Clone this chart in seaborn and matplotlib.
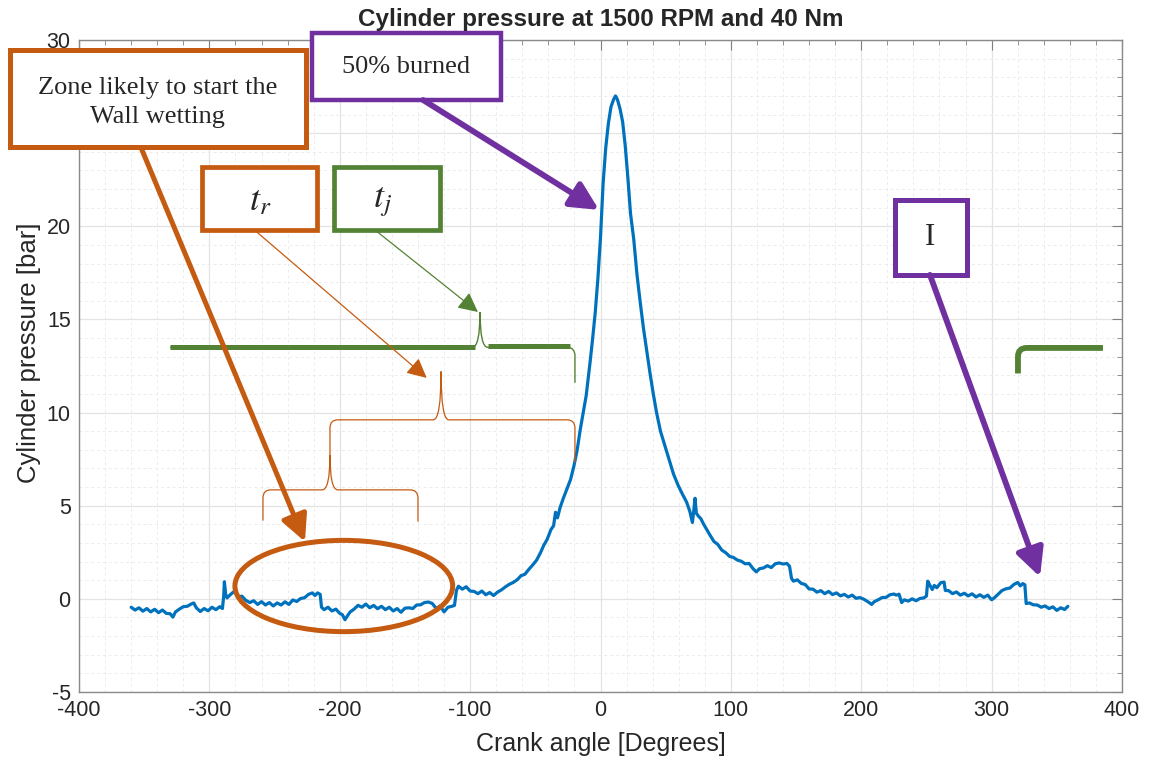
import numpy as np
import pandas as pd
import seaborn as sns
import matplotlib.pyplot as plt
from matplotlib.path import Path
from matplotlib.patches import PathPatch, Rectangle, Ellipse

# crank angle [deg] and cylinder pressure [bar]
angle = [-360, -357, -354, -351, -348, -345, -342, -339, -336, -333, -330, -328, -326, -323,
         -320, -317, -314, -312, -310, -307, -304, -301, -298, -295, -292, -290, -289, -288.5,
         -287.5, -286.5, -284, -281, -278, -275, -272, -269, -266, -263, -260, -257, -254, -251,
         -248, -245, -242, -239, -236, -233, -230, -227, -224, -221, -219, -217, -215, -214,
         -212, -209, -206, -203, -200, -198, -196, -194, -192, -189, -186, -183, -180, -177,
         -174, -171, -168, -165, -162, -159, -156, -153, -150, -147, -144, -141, -138, -135,
         -132, -129, -126, -123, -120, -117, -114, -112, -110.5, -109, -106, -103, -100, -97,
         -94, -91, -88, -85, -82, -79, -76, -73, -70, -67, -64, -61, -58, -55, -52, -49, -46,
         -43.5, -41, -38, -36, -34.5, -33, -31, -28.5, -26, -23, -20.5, -18, -15.5, -13, -11,
         -9.5, -8, -6, -4, -2, 0, 2, 4, 6, 8, 10, 11.5, 13, 15, 17, 19, 21, 23, 25.5, 28, 30.5,
         33, 35.5, 38, 40.5, 43, 46, 49.5, 53, 56, 59.5, 63, 66, 68.5, 70.5, 71.5, 72.5, 73.5,
         75, 77, 79, 81, 84, 87, 90, 93, 96, 99, 102, 105, 108, 111, 114, 117, 119.5, 122, 125,
         128, 131, 134, 137, 140, 143, 145, 146.5, 148, 151, 154, 157, 160, 163, 166, 169, 172,
         175, 178, 181, 184, 187, 190, 193, 196, 199, 202, 205, 208, 210, 213, 216, 219, 222,
         225, 227, 229, 231, 233, 236, 239, 242, 245, 248, 250, 251, 252.5, 254.5, 256, 258,
         261, 263.5, 264.5, 267, 270, 273, 276, 279, 282, 285, 288, 291, 294, 297, 300, 302,
         305, 308, 311, 314, 317, 320, 322, 324, 325.5, 326.5, 329, 332, 335, 338, 341, 344,
         347, 350, 353, 356, 358.5]
pressure = [-0.45, -0.60, -0.48, -0.66, -0.52, -0.70, -0.56, -0.74, -0.60, -0.78, -0.80, -0.98,
            -0.70, -0.55, -0.42, -0.40, -0.28, -0.22, -0.48, -0.68, -0.52, -0.64, -0.45, -0.58,
            -0.42, -0.52, 0.15, 0.92, 0.25, 0.05, 0.22, 0.40, 0.12, 0.14, -0.08, -0.20, -0.10,
            -0.30, -0.15, -0.33, -0.20, -0.38, -0.22, -0.33, -0.16, -0.30, -0.06, -0.14, 0.02,
            0.06, 0.24, 0.32, 0.18, 0.32, 0.24, -0.45, -0.58, -0.45, -0.65, -0.55, -0.78, -0.85,
            -1.12, -0.90, -0.70, -0.55, -0.35, -0.45, -0.28, -0.48, -0.35, -0.53, -0.40, -0.58,
            -0.45, -0.65, -0.52, -0.72, -0.50, -0.48, -0.52, -0.33, -0.32, -0.20, -0.17, -0.25,
            -0.52, -0.38, -0.70, -0.45, -0.40, -0.35, 0.45, 0.68, 0.52, 0.65, 0.42, 0.40, 0.28,
            0.42, 0.22, 0.34, 0.18, 0.36, 0.48, 0.64, 0.78, 0.88, 1.02, 1.24, 1.32, 1.58, 1.82,
            2.08, 2.48, 2.88, 3.18, 3.72, 3.92, 4.65, 4.35, 4.90, 5.40, 5.85, 6.40, 7.10, 7.95,
            9.10, 10.10, 10.90, 11.80, 12.70, 14.00, 15.40, 17.20, 19.40, 22.30, 24.20, 25.50,
            26.40, 26.80, 27.00, 26.80, 26.30, 25.60, 24.30, 22.60, 20.70, 19.30, 17.40, 15.90,
            14.50, 13.30, 12.10, 11.00, 10.00, 9.00, 8.20, 7.40, 6.70, 6.10, 5.60, 5.20, 4.70,
            4.10, 4.70, 5.40, 4.60, 4.45, 4.30, 4.02, 3.78, 3.42, 3.08, 2.92, 2.62, 2.48, 2.28,
            2.22, 2.08, 2.02, 1.88, 1.90, 1.62, 1.45, 1.62, 1.66, 1.78, 1.68, 1.88, 1.93, 1.87,
            1.90, 1.75, 1.10, 0.95, 1.02, 0.83, 0.77, 0.53, 0.52, 0.36, 0.44, 0.28, 0.40, 0.23,
            0.32, 0.16, 0.24, 0.10, 0.20, 0.03, 0.07, -0.02, -0.15, -0.30, -0.15, -0.05, 0.07,
            0.08, 0.22, 0.26, 0.20, 0.25, -0.20, -0.05, -0.12, 0.00, -0.10, 0.02, 0.05, 0.15,
            0.95, 0.75, 0.50, 0.72, 0.60, 0.87, 0.90, 0.45, 0.44, 0.28, 0.37, 0.20, 0.30, 0.16,
            0.27, 0.10, 0.22, 0.08, 0.20, -0.05, 0.05, 0.25, 0.45, 0.54, 0.58, 0.77, 0.88, 0.70,
            0.82, 0.75, -0.25, -0.22, -0.32, -0.33, -0.45, -0.38, -0.52, -0.43, -0.62, -0.48,
            -0.57, -0.40]

x_ticks = [-400, -300, -200, -100, 0, 100, 200, 300, 400]
y_ticks = [-5, 0, 5, 10, 15, 20, 25, 30]

BLUE = '#0072BD'
ORANGE = '#C55A11'
PURPLE = '#7030A0'
GREEN = '#548235'
SERIF = ['Liberation Serif', 'DejaVu Serif']

sns.set_theme(style='white')
plt.rcParams['font.family'] = ['Liberation Sans', 'DejaVu Sans']
plt.rcParams['mathtext.fontset'] = 'stix'
plt.rcParams['axes.unicode_minus'] = False

df = pd.DataFrame({'angle': angle, 'pressure': pressure})

fig = plt.figure(figsize=(11.57, 7.61), dpi=100)
fig.patch.set_facecolor('white')
ax = fig.add_axes([79 / 1157, 1 - 692 / 761, 1043 / 1157, 652 / 761])

sns.lineplot(data=df, x='angle', y='pressure', sort=False, color=BLUE, lw=2.3, ax=ax, zorder=3)

ax.set_xlim(-400, 400)
ax.set_ylim(-5, 30)
ax.set_xticks(x_ticks)
ax.set_yticks(y_ticks)
ax.set_xticks(np.arange(-400, 401, 20), minor=True)
ax.set_yticks(np.arange(-5, 31, 1), minor=True)
ax.grid(which='major', color='#e3e3e3', lw=0.9)
ax.grid(which='minor', color='#ececec', lw=0.7, ls=(0, (3, 3)))
ax.set_axisbelow(True)
ax.tick_params(which='both', direction='in', top=True, right=True, colors='#808080',
               labelcolor='#262626', labelsize=15.5, pad=6)
ax.tick_params(which='major', length=7, width=0.8)
ax.tick_params(which='minor', length=3.5, width=0.6)
for s in ax.spines.values():
    s.set_color('#8a8a8a')
    s.set_linewidth(1.0)

ax.set_title('Cylinder pressure at 1500 RPM and 40 Nm', fontsize=17.5, fontweight='bold', pad=10)
ax.title.set_zorder(20)
ax.set_xlabel('Crank angle [Degrees]', fontsize=18, color='#262626')
ax.set_ylabel('Cylinder pressure [bar]', fontsize=18.5, color='#262626')
ax.xaxis.set_label_coords(0.5, -0.062)
ax.yaxis.set_label_coords(-0.036, 0.52)


def box(x0, x1, y0, y1, color, lw):
    ax.add_patch(Rectangle((x0, y0), x1 - x0, y1 - y0, facecolor='white', edgecolor=color,
                           lw=lw, clip_on=False, zorder=6))


def arrow(start, tip, color, lw, ms):
    ax.annotate('', xy=tip, xytext=start, annotation_clip=False, zorder=7,
                arrowprops=dict(arrowstyle='-|>', color=color, lw=lw, mutation_scale=ms,
                                shrinkA=0, shrinkB=0))


def brace(x0, x1, y, xt, tip, drop0, drop1, color, lw, rx=6, ry=0.45):
    if drop0 > 0:
        verts = [(x0, y - drop0), (x0, y - ry), (x0, y), (x0 + rx, y)]
        codes = [Path.MOVETO, Path.LINETO, Path.CURVE3, Path.CURVE3]
    else:
        verts = [(x0, y)]
        codes = [Path.MOVETO]
    verts += [(xt - rx, y), (xt, y), (xt, y + tip), (xt, y), (xt + rx, y),
              (x1 - rx, y), (x1, y), (x1, y - ry), (x1, y - drop1)]
    codes += [Path.LINETO, Path.CURVE3, Path.CURVE3, Path.CURVE3, Path.CURVE3,
              Path.LINETO, Path.CURVE3, Path.CURVE3, Path.LINETO]
    ax.add_patch(PathPatch(Path(verts, codes), fill=False, edgecolor=color, lw=lw,
                           clip_on=False, zorder=5))


# orange braces (t_r) and green brace (t_j)
brace(-258.9, -140, 5.85, -207.5, 1.87, 1.65, 1.7, ORANGE, 0.9)
brace(-207.5, -19.6, 9.61, -122.3, 2.6, 1.9, 2.3, ORANGE, 0.9)
brace(-330.2, -19.6, 13.5, -92.4, 1.9, 0.0, 1.9, GREEN, 1.0)
ax.plot([-330.2, -96.6], [13.5, 13.5], color=GREEN, lw=3.6, solid_capstyle='butt', zorder=5)
ax.plot([-86.3, -23.4], [13.55, 13.55], color=GREEN, lw=3.6, solid_capstyle='butt', zorder=5)
gverts = [(320.2, 12.1), (320.2, 13.0), (320.2, 13.47), (327, 13.47), (385.4, 13.47)]
gcodes = [Path.MOVETO, Path.LINETO, Path.CURVE3, Path.CURVE3, Path.LINETO]
ax.add_patch(PathPatch(Path(gverts, gcodes), fill=False, edgecolor=GREEN, lw=4.2,
                       capstyle='butt', zorder=5))

ax.add_patch(Ellipse((-196.9, 0.69), 167, 4.9, fill=False, edgecolor=ORANGE, lw=3.6, zorder=5))

# arrows
arrow((-352, 24.15), (-226.7, 3.07), ORANGE, 3.6, 40)
arrow((-136.1, 26.78), (-1.15, 20.88), PURPLE, 4.2, 42)
arrow((252.7, 17.39), (337.1, 1.18), PURPLE, 4.2, 42)
arrow((-265.4, 19.8), (-133.3, 11.86), ORANGE, 0.9, 30)
arrow((-172.96, 19.8), (-94, 15.4), GREEN, 0.9, 30)

# text boxes
box(-453, -226, 24.25, 29.45, ORANGE, 3.6)
ax.text(-340, 26.65, 'Zone likely to start the\nWall wetting', family=SERIF, fontsize=19,
        ha='center', va='center', linespacing=1.4, zorder=8)
box(-221.3, -76.3, 26.78, 30.38, PURPLE, 3.2)
ax.text(-149.2, 28.55, '50% burned', family=SERIF, fontsize=19, ha='center', va='center', zorder=8)
box(-305.6, -217.5, 19.8, 23.18, ORANGE, 3.4)
ax.text(-261.2, 21.35, r'$t_r$', fontsize=26, ha='center', va='center', zorder=8)
box(-204.4, -123.1, 19.8, 23.18, GREEN, 3.4)
ax.text(-166.8, 21.35, r'$t_j$', fontsize=26, ha='center', va='center', zorder=8)
box(225.9, 281.1, 17.39, 21.41, PURPLE, 3.6)
ax.text(252.7, 19.4, 'I', family=SERIF, fontsize=22, ha='center', va='center', zorder=8)

fig.savefig('out.png', dpi=100, facecolor='white')
